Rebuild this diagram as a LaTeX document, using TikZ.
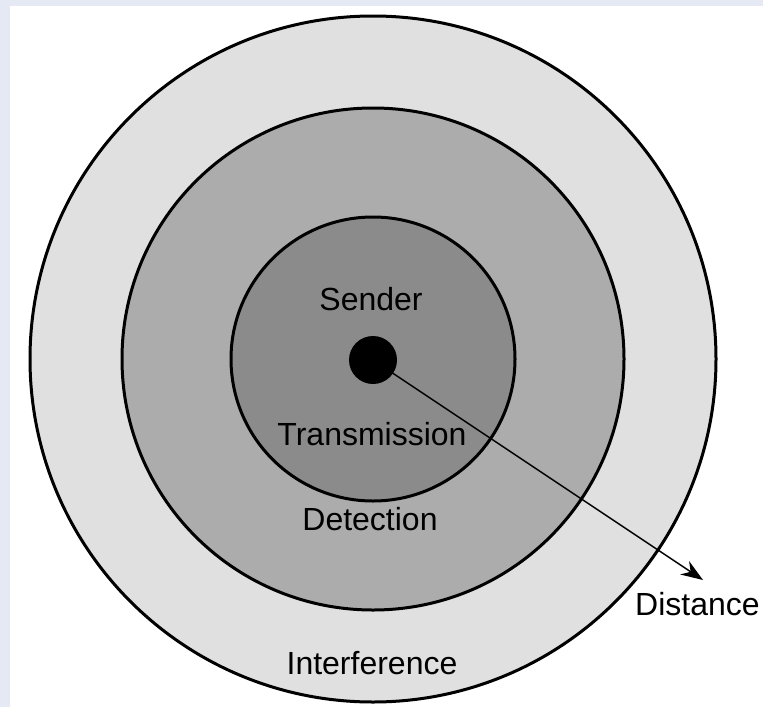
\documentclass[tikz,border=0pt]{standalone}
\usepackage{fontspec}
\setmainfont{Liberation Sans}
\usetikzlibrary{arrows.meta}
\definecolor{bgblue}{RGB}{228,233,243}
\definecolor{ringout}{RGB}{224,224,224}
\definecolor{ringmid}{RGB}{172,172,172}
\definecolor{ringin}{RGB}{139,139,139}
\begin{document}
\begin{tikzpicture}[x=1pt,y=-1pt,
  ring/.style={circle, draw=black, line width=3pt, inner sep=0pt},
  lbl/.style={font=\fontsize{32}{36}\selectfont, inner sep=0pt, anchor=center}]
\useasboundingbox (0,0) rectangle (763,707);
\fill[bgblue] (0,0) rectangle (763,707);
\fill[white] (10,6) rectangle (763,707);
\node[ring, fill=ringout, minimum size=686pt] (outer) at (373,359) {};
\node[ring, fill=ringmid, minimum size=502pt] (middle) at (373,359) {};
\node[ring, fill=ringin, minimum size=284pt] (inner) at (373,359) {};
\coordinate (tip) at (703,580);
\node[circle, fill=black, minimum size=48pt, inner sep=0pt] (sender) at (373,360) {};
\draw[line width=1.5pt, -{Stealth[length=22pt,width=16pt]}] (sender.center) -- (tip);
\node[lbl] (lsender) at (371,299) {Sender};
\node[lbl] (ltrans) at (372,434) {Transmission};
\node[lbl] (ldet) at (370,519) {Detection};
\node[lbl] (lint) at (372,663) {Interference};
\node[lbl, anchor=west] (ldist) at (635,604) {Distance};
\end{tikzpicture}
\end{document}
